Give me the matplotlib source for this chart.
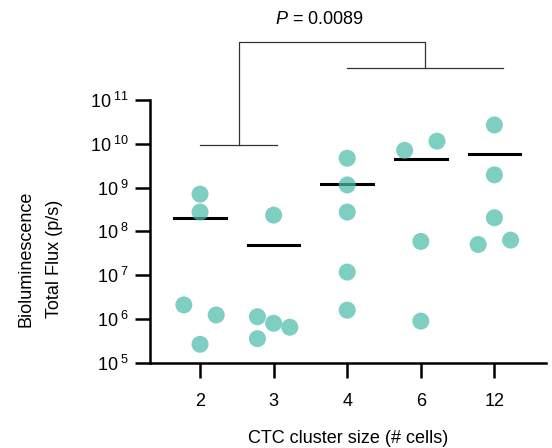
import matplotlib.pyplot as plt
import numpy as np

plt.rcParams['font.family'] = ['Liberation Sans', 'DejaVu Sans']
plt.rcParams['mathtext.fontset'] = 'custom'
plt.rcParams['mathtext.rm'] = 'Liberation Sans'
plt.rcParams['mathtext.it'] = 'Liberation Sans:italic'

# categories
groups = ['2', '3', '4', '6', '12']
# log10 flux values per group, with horizontal jitter offsets
log_flux = [
    [8.85, 8.44, 6.32, 6.09, 5.42],
    [8.37, 6.05, 5.90, 5.81, 5.55],
    [9.67, 9.06, 8.44, 7.07, 6.20],
    [9.85, 10.06, 7.77, 5.95],
    [10.43, 9.29, 8.31, 7.70, 7.80],
]
offsets = [
    [0, 0, -0.22, 0.22, 0],
    [0, -0.22, 0, 0.22, -0.22],
    [0, 0, 0, 0, 0],
    [-0.22, 0.22, 0, 0],
    [0, 0, 0, -0.22, 0.22],
]
# group means (log10)
log_means = [8.30, 7.68, 9.08, 9.66, 9.77]

fig = plt.figure(figsize=(5.52, 4.48), dpi=100)
ax = fig.add_axes([0.2717, 0.1904, 0.7173, 0.5864])

for i in range(len(groups)):
    ax.plot([i - 0.35, i + 0.35], [10 ** log_means[i]] * 2, color='black', lw=2.2, zorder=2)
    xs = [i + o for o in offsets[i]]
    ys = [10 ** v for v in log_flux[i]]
    ax.scatter(xs, ys, s=150, color='#4DBDA9', alpha=0.72, edgecolors='none', zorder=3)

ax.set_yscale('log')
ax.set_ylim(1e5, 1e11)
ax.set_xlim(-0.68, 4.70)
ax.set_yticks([10.0 ** k for k in range(5, 12)])
ax.set_yticklabels([r'10$^{\ %d}$' % k for k in range(5, 12)])
ax.yaxis.set_minor_locator(plt.NullLocator())
ax.set_xticks(range(len(groups)))
ax.set_xticklabels(groups)

for s in ['top', 'right']:
    ax.spines[s].set_visible(False)
for s in ['left', 'bottom']:
    ax.spines[s].set_linewidth(1.8)
ax.tick_params(axis='both', length=11, width=1.8, labelsize=13)
ax.tick_params(axis='x', pad=11)
ax.tick_params(axis='y', pad=4)

ax.set_xlabel('CTC cluster size (# cells)', fontsize=13, labelpad=14)
fig.text(0.073, 1 - 259 / 448, 'Bioluminescence\nTotal Flux (p/s)', rotation=90,
         ha='center', va='center', multialignment='center', fontsize=13, linespacing=1.85)

# significance brackets
bc = '#333333'
ax.plot([0, 1.05], [10 ** 9.97] * 2, color=bc, lw=0.9, clip_on=False)
ax.plot([2.0, 4.11], [10 ** 11.73] * 2, color=bc, lw=0.9, clip_on=False)
ax.plot([0.53, 0.53, 3.06, 3.06], [10 ** 9.97, 10 ** 12.32, 10 ** 12.32, 10 ** 11.73],
        color=bc, lw=0.9, clip_on=False)
ax.text(1.62, 10 ** 12.83, r'$P$ = 0.0089', ha='center', va='center', fontsize=13)

fig.savefig('out.png', dpi=100)
